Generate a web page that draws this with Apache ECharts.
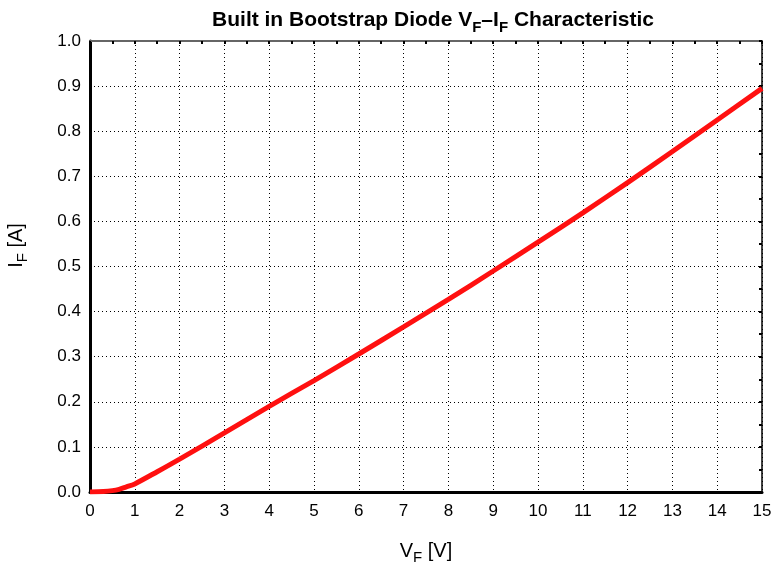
<!DOCTYPE html>
<html>
<head>
<meta charset="utf-8">
<script src="https://cdn.jsdelivr.net/npm/echarts@6/dist/echarts.min.js"></script>
<style>
  html, body { margin: 0; padding: 0; background: #fff; }
  #chart { width: 771px; height: 566px; }
</style>
</head>
<body>
<div id="chart"></div>
<script>
// Forward voltage (V) and forward current (A) of the built-in bootstrap diode
const vf = [0, 0.3, 0.5, 0.65, 0.8, 1, 1.5, 2, 3, 4, 5, 6, 7, 8, 9, 10, 11, 12, 13, 14, 15];
const iF = [0, 0.001, 0.003, 0.006, 0.011, 0.018, 0.045, 0.073, 0.131, 0.19, 0.247, 0.306, 0.366, 0.427, 0.49, 0.554, 0.619, 0.686, 0.755, 0.825, 0.895];

const xTicks = { min: 0, max: 15, interval: 1 };
const yTicks = { min: 0, max: 1, interval: 0.1 };

const font = 'Liberation Sans, Arial, Helvetica, sans-serif';
const chart = echarts.init(document.getElementById('chart'));

const txt = (size, bold) => ({ fontSize: size, fontWeight: bold ? 'bold' : 'normal', fontFamily: font, color: '#000' });

// rich-text styles: main run plus a lowered subscript run
const richSub = (size, subSize, bold, drop) => ({
  a: Object.assign(txt(size, bold), { lineHeight: 24, verticalAlign: 'bottom' }),
  s: Object.assign(txt(subSize, bold), { lineHeight: 24, verticalAlign: 'bottom', padding: [0, 0, -drop, 0] })
});

chart.setOption({
  animation: false,
  title: {
    text: '{a|Built in Bootstrap Diode V}{s|F}{a|–I}{s|F}{a| Characteristic}',
    left: 428,
    textAlign: 'center',
    top: 2,
    textStyle: { rich: richSub(21, 15, true, 4) }
  },
  grid: { left: 90, right: 9, top: 41, bottom: 74, outerBoundsMode: 'none', containLabel: false },
  xAxis: [{
    type: 'value', position: 'bottom',
    min: xTicks.min, max: xTicks.max, interval: xTicks.interval,
    name: '{a|V}{s|F}{a| [V]}',
    nameLocation: 'middle',
    nameGap: 45,
    nameTextStyle: { rich: richSub(20, 15, false, 4) },
    axisLine: { onZero: false, lineStyle: { color: '#000', width: 3 } },
    axisTick: { show: false },
    axisLabel: { color: '#000', fontSize: 17, fontFamily: font, margin: 11 },
    splitLine: { show: true, lineStyle: { color: '#000', type: [1, 3], width: 1 } }
  }, {
    type: 'value', position: 'top',
    min: xTicks.min, max: xTicks.max, interval: xTicks.interval,
    axisLine: { show: true, onZero: false, lineStyle: { color: '#666', width: 2 } },
    axisTick: { show: true, inside: true, length: 3, lineStyle: { color: '#000', width: 2 } },
    minorTick: { show: true, splitNumber: 2, length: 3, lineStyle: { color: '#000', width: 2 } },
    axisLabel: { show: false },
    splitLine: { show: false }
  }],
  yAxis: [{
    type: 'value', position: 'left',
    min: yTicks.min, max: yTicks.max, interval: yTicks.interval,
    name: '{a|I}{s|F}{a| [A]}',
    nameLocation: 'middle',
    nameGap: 64,
    nameRotate: 90,
    nameTextStyle: { rich: richSub(20, 15, false, 4), padding: [0, 0, 0, 42] },
    axisLine: { show: true, onZero: false, lineStyle: { color: '#000', width: 3 } },
    axisTick: { show: false },
    axisLabel: { color: '#000', fontSize: 17, fontFamily: font, margin: 9, formatter: v => v.toFixed(1) },
    splitLine: { show: true, lineStyle: { color: '#000', type: [1, 3], width: 1 } }
  }, {
    type: 'value', position: 'right',
    min: yTicks.min, max: yTicks.max, interval: yTicks.interval,
    axisLine: { show: true, onZero: false, lineStyle: { color: '#000', width: 1.5 } },
    axisTick: { show: true, inside: true, length: 3, lineStyle: { color: '#000', width: 2 } },
    minorTick: { show: true, splitNumber: 2, length: 3, lineStyle: { color: '#000', width: 2 } },
    axisLabel: { show: false },
    splitLine: { show: false }
  }],
  series: [{
    type: 'line',
    data: vf.map((v, i) => [v, iF[i]]),
    smooth: 0.3,
    showSymbol: false,
    lineStyle: { color: '#ff1010', width: 5 },
    z: 5
  }]
});
</script>
</body>
</html>
